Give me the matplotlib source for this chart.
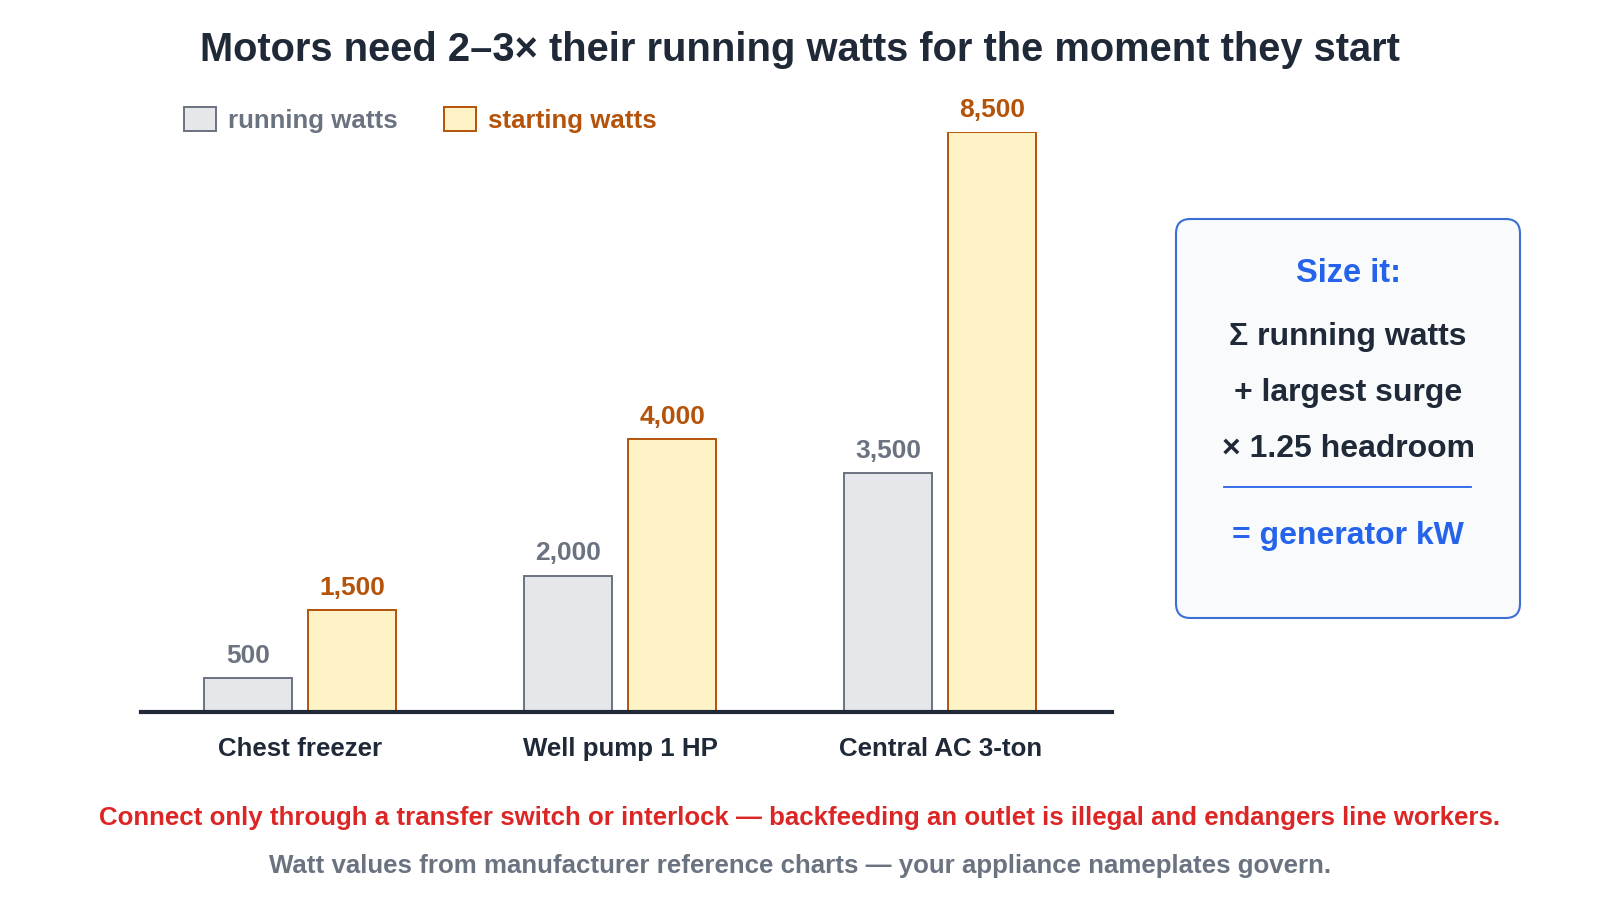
import matplotlib
matplotlib.use("Agg")
import matplotlib.pyplot as plt
from matplotlib.patches import Rectangle, FancyBboxPatch
import numpy as np

plt.rcParams['font.family'] = ['Liberation Sans', 'DejaVu Sans']
plt.rcParams['font.weight'] = 'bold'

categories = ['Chest freezer', 'Well pump 1 HP', 'Central AC 3-ton']
running_watts = [500, 2000, 3500]
starting_watts = [1500, 4000, 8500]

DARK = '#1f2937'
GREY = '#6b7280'
ORANGE = '#b45309'
RED = '#dc2626'
BLUE = '#2563eb'

W, H = 1600, 920
fig = plt.figure(figsize=(16, 9.2), dpi=100)


def fx(x):
    return x / W


def fy(y):
    return 1 - y / H


# plot area in pixel terms: baseline at y=713, 8500 W at y=133
ax = fig.add_axes([fx(141), fy(713), (1112 - 141) / W, (713 - 133) / H])
x = np.arange(len(categories))
off = 0.1625
bw = 0.275
b1 = ax.bar(x - off, running_watts, bw, color='#e5e7eb', edgecolor=GREY, linewidth=1.4, zorder=2)
b2 = ax.bar(x + off, starting_watts, bw, color='#fef3c7', edgecolor=ORANGE, linewidth=1.4, zorder=2)
ax.set_xlim(-0.497, 2.537)
ax.set_ylim(0, 8500)
ax.axhline(0, color=DARK, linewidth=3, zorder=3, clip_on=False)

for bars, vals, col in [(b1, running_watts, GREY), (b2, starting_watts, ORANGE)]:
    for r, v in zip(bars, vals):
        ax.annotate(f'{v:,}', (r.get_x() + r.get_width() / 2, v), xytext=(0, 8),
                    textcoords='offset points', ha='center', va='bottom',
                    fontsize=19, color=col, fontweight='bold', annotation_clip=False)

ax.set_xticks(x)
ax.set_xticklabels(categories, fontsize=18.6, color=DARK, fontweight='bold')
ax.tick_params(axis='x', length=0, pad=17.5)
ax.set_yticks([])
for s in ax.spines.values():
    s.set_visible(False)
ax.patch.set_alpha(0)

# title
fig.text(fx(800), fy(50), 'Motors need 2–3× their running watts for the moment they start',
         ha='center', va='center', fontsize=28.7, color=DARK, fontweight='bold')

# legend
fig.patches.append(Rectangle((fx(184), fy(132)), 32 / W, 24 / H, transform=fig.transFigure,
                             facecolor='#e5e7eb', edgecolor=GREY, linewidth=1.4))
fig.text(fx(228), fy(121), 'running watts', ha='left', va='center', fontsize=18.6, color=GREY)
fig.patches.append(Rectangle((fx(444), fy(132)), 32 / W, 24 / H, transform=fig.transFigure,
                             facecolor='#fef3c7', edgecolor=ORANGE, linewidth=1.4))
fig.text(fx(488), fy(121), 'starting watts', ha='left', va='center', fontsize=18.6, color=ORANGE)

# sizing box
box = FancyBboxPatch((fx(1176), fy(619)), (1520 - 1176) / W, (619 - 220) / H,
                     boxstyle='round,pad=0,rounding_size=0.009', transform=fig.transFigure,
                     facecolor='#f8fafc', edgecolor='#3b6fd4', linewidth=1.5, mutation_aspect=W / H)
fig.patches.append(box)
cx = fx(1348)
fig.text(cx, fy(273), 'Size it:', ha='center', va='center', fontsize=23.5, color=BLUE)
fig.text(cx, fy(337), 'Σ running watts', ha='center', va='center', fontsize=23, color=DARK)
fig.text(cx, fy(393), '+ largest surge', ha='center', va='center', fontsize=23, color=DARK)
fig.text(cx, fy(449), '× 1.25 headroom', ha='center', va='center', fontsize=23, color=DARK)
fig.add_artist(plt.Line2D([fx(1224), fx(1471)], [fy(488), fy(488)], color=BLUE, linewidth=1.3))
fig.text(cx, fy(536), '= generator kW', ha='center', va='center', fontsize=23, color=BLUE)

# footers
fig.text(fx(800), fy(818), 'Connect only through a transfer switch or interlock — backfeeding an outlet is illegal and endangers line workers.',
         ha='center', va='center', fontsize=18.6, color=RED)
fig.text(fx(800), fy(866), 'Watt values from manufacturer reference charts — your appliance nameplates govern.',
         ha='center', va='center', fontsize=18.6, color=GREY)

fig.savefig('out.png', dpi=100, facecolor='white')
